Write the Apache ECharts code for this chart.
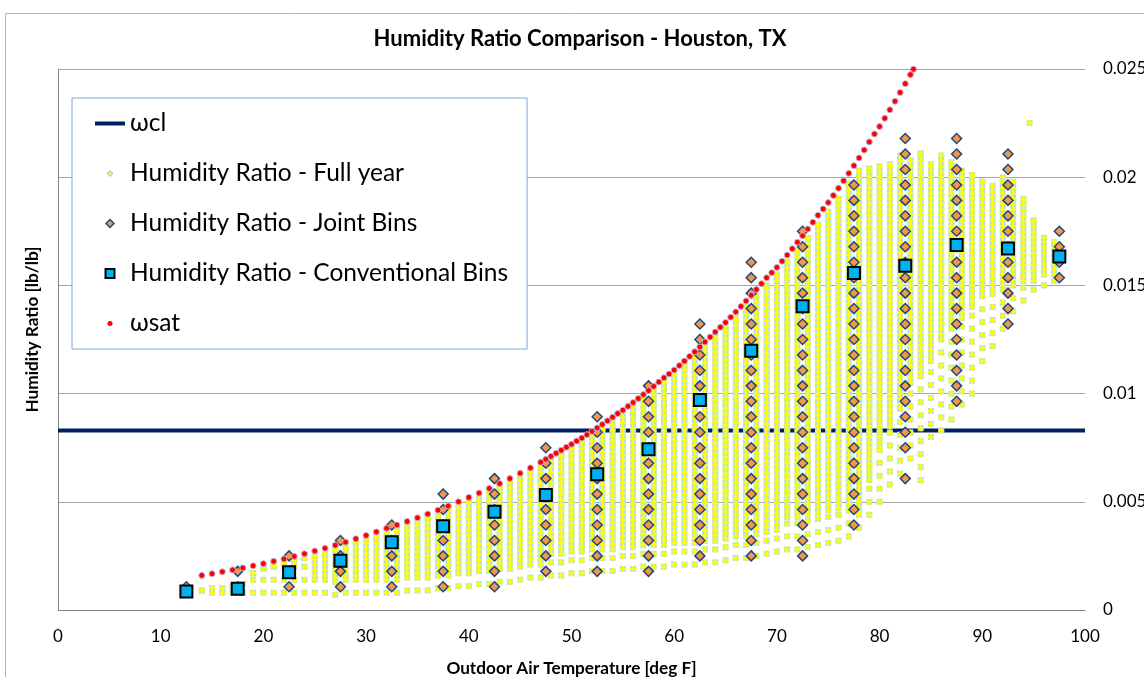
<!DOCTYPE html>
<html>
<head>
<meta charset="utf-8">
<title>Humidity Ratio Comparison - Houston, TX</title>
<script src="https://cdn.jsdelivr.net/npm/echarts@6.0.0/dist/echarts.min.js"></script>
<style>
  html, body { margin: 0; padding: 0; background: #fff; }
  #chart { width: 1144px; height: 677px; }
</style>
</head>
<body>
<div id="chart"></div>
<script>
const FONT = 'Lato, "Noto Sans", "DejaVu Sans", sans-serif'

// x axis ticks (deg F) and y axis ticks (lb/lb)
const xTicks = [0, 10, 20, 30, 40, 50, 60, 70, 80, 90, 100]
const yTicks = [0, 0.005, 0.01, 0.015, 0.02, 0.025]

// ωcl - coil leaving humidity ratio (constant)
const wclTemps = [0, 100]
const wclValues = [0.0083, 0.0083]

// hourly full-year cloud, one column per deg F:
// lowest reading, where the crowded part starts, highest reading
const fullYearTemps = [14, 15, 16, 17, 18, 19, 20, 21, 22, 23, 24, 25, 26, 27, 28, 29, 30, 31, 32, 33,
  34, 35, 36, 37, 38, 39, 40, 41, 42, 43, 44, 45, 46, 47, 48, 49, 50, 51, 52, 53,
  54, 55, 56, 57, 58, 59, 60, 61, 62, 63, 64, 65, 66, 67, 68, 69, 70, 71, 72, 73,
  74, 75, 76, 77, 78, 79, 80, 81, 82, 83, 84, 85, 86, 87, 88, 89, 90, 91, 92, 93,
  94, 95, 96, 97]
const fullYearLow = [0.0009, 0.0008, 0.0008, 0.0008, 0.0008, 0.0008, 0.0008, 0.0008, 0.0008, 0.0008,
  0.0008, 0.0008, 0.0008, 0.0007, 0.0008, 0.0008, 0.0008, 0.0008, 0.0008, 0.0008,
  0.0009, 0.0009, 0.0009, 0.0010, 0.0010, 0.0011, 0.0011, 0.0012, 0.0012, 0.0013,
  0.0013, 0.0014, 0.0015, 0.0015, 0.0016, 0.0016, 0.0017, 0.0017, 0.0018, 0.0018,
  0.0018, 0.0019, 0.0019, 0.0020, 0.0020, 0.0020, 0.0021, 0.0021, 0.0021, 0.0022,
  0.0022, 0.0023, 0.0024, 0.0024, 0.0025, 0.0026, 0.0027, 0.0028, 0.0028, 0.0029,
  0.0030, 0.0031, 0.0032, 0.0034, 0.0038, 0.0044, 0.0050, 0.0058, 0.0063, 0.0070,
  0.0060, 0.0080, 0.0083, 0.0088, 0.0095, 0.0100, 0.0115, 0.0122, 0.0130, 0.0138,
  0.0143, 0.0148, 0.0150, 0.0152]
const fullYearCore = [0.0009, 0.0010, 0.0010, 0.0011, 0.0012, 0.0017, 0.0019, 0.0021, 0.0022, 0.0023,
  0.0024, 0.0016, 0.0016, 0.0015, 0.0016, 0.0016, 0.0016, 0.0016, 0.0016, 0.0016,
  0.0017, 0.0017, 0.0015, 0.0016, 0.0016, 0.0017, 0.0017, 0.0018, 0.0018, 0.0019,
  0.0019, 0.0020, 0.0021, 0.0021, 0.0026, 0.0026, 0.0027, 0.0027, 0.0028, 0.0028,
  0.0028, 0.0029, 0.0029, 0.0030, 0.0030, 0.0030, 0.0031, 0.0031, 0.0031, 0.0032,
  0.0032, 0.0033, 0.0034, 0.0034, 0.0035, 0.0036, 0.0037, 0.0043, 0.0043, 0.0044,
  0.0045, 0.0046, 0.0047, 0.0049, 0.0045, 0.0060, 0.0075, 0.0085, 0.0095, 0.0105,
  0.0110, 0.0115, 0.0125, 0.0130, 0.0135, 0.0140, 0.0145, 0.0148, 0.0150, 0.0150,
  0.0152, 0.0152, 0.0155, 0.0155]
const fullYearHigh = [0.0009, 0.0010, 0.0010, 0.0011, 0.0012, 0.0017, 0.0019, 0.0021, 0.0022, 0.0023,
  0.0024, 0.0025, 0.0027, 0.0028, 0.0030, 0.0031, 0.0033, 0.0034, 0.0036, 0.0037,
  0.0039, 0.0041, 0.0043, 0.0045, 0.0047, 0.0049, 0.0051, 0.0053, 0.0055, 0.0057,
  0.0059, 0.0062, 0.0064, 0.0067, 0.0070, 0.0073, 0.0075, 0.0078, 0.0081, 0.0084,
  0.0088, 0.0091, 0.0094, 0.0098, 0.0102, 0.0106, 0.0109, 0.0113, 0.0118, 0.0122,
  0.0126, 0.0130, 0.0135, 0.0140, 0.0145, 0.0150, 0.0155, 0.0161, 0.0166, 0.0172,
  0.0178, 0.0184, 0.0190, 0.0197, 0.0203, 0.0204, 0.0205, 0.0206, 0.0210, 0.0208,
  0.0211, 0.0206, 0.0210, 0.0207, 0.0203, 0.0201, 0.0198, 0.0196, 0.0200, 0.0198,
  0.0190, 0.0180, 0.0172, 0.0170]
// isolated readings outside the columns above
const fullYearExtraTemps = [94.6]
const fullYearExtraValues = [0.0225]

// joint bins: 5 deg F columns, humidity bins centred on grains of moisture per lb
const jointTemps = [12.5, 17.5, 22.5, 27.5, 32.5, 37.5, 42.5, 47.5, 52.5, 57.5, 62.5, 67.5, 72.5, 77.5, 82.5, 87.5, 92.5, 97.5]
const jointGrains = [
  [7.5],
  [7.5, 12.5],
  [7.5, 12.5, 17.5],
  [7.5, 12.5, 17.5, 22.5],
  [7.5, 12.5, 17.5, 22.5, 27.5],
  [7.5, 12.5, 17.5, 22.5, 27.5, 32.5, 37.5],
  [7.5, 12.5, 17.5, 22.5, 27.5, 32.5, 37.5, 42.5],
  [12.5, 17.5, 22.5, 27.5, 32.5, 37.5, 42.5, 47.5, 52.5],
  [12.5, 17.5, 22.5, 27.5, 32.5, 37.5, 42.5, 47.5, 52.5, 57.5, 62.5],
  [12.5, 17.5, 22.5, 27.5, 32.5, 37.5, 42.5, 47.5, 52.5, 57.5, 62.5, 67.5, 72.5],
  [17.5, 22.5, 27.5, 32.5, 37.5, 42.5, 47.5, 52.5, 57.5, 62.5, 67.5, 72.5, 77.5, 82.5, 87.5, 92.5],
  [17.5, 22.5, 27.5, 32.5, 37.5, 42.5, 47.5, 52.5, 57.5, 62.5, 67.5, 72.5, 77.5, 82.5, 87.5, 92.5,
    97.5, 102.5, 107.5, 112.5],
  [17.5, 22.5, 27.5, 32.5, 37.5, 42.5, 47.5, 52.5, 57.5, 62.5, 67.5, 72.5, 77.5, 82.5, 87.5, 92.5,
    97.5, 102.5, 107.5, 112.5, 117.5, 122.5],
  [27.5, 32.5, 37.5, 42.5, 47.5, 52.5, 57.5, 62.5, 67.5, 72.5, 77.5, 82.5, 87.5, 92.5,
    97.5, 102.5, 107.5, 112.5, 117.5, 122.5, 127.5, 132.5, 137.5],
  [42.5, 52.5, 57.5, 62.5, 67.5, 72.5, 77.5, 82.5, 87.5, 92.5, 97.5, 102.5, 107.5, 112.5,
    117.5, 122.5, 127.5, 132.5, 137.5, 142.5, 147.5, 152.5],
  [67.5, 72.5, 77.5, 82.5, 87.5, 92.5, 97.5, 102.5, 107.5, 112.5, 117.5, 122.5, 127.5, 132.5,
    137.5, 142.5, 147.5, 152.5],
  [92.5, 97.5, 102.5, 107.5, 112.5, 117.5, 122.5, 127.5, 132.5, 137.5, 142.5, 147.5],
  [107.5, 112.5, 117.5, 122.5]
]
const GRAINS_PER_LB = 7000

// conventional bins: mean humidity ratio per 5 deg F bin
const convTemps = [12.5, 17.5, 22.5, 27.5, 32.5, 37.5, 42.5, 47.5, 52.5, 57.5, 62.5, 67.5, 72.5, 77.5, 82.5, 87.5, 92.5, 97.5]
const convValues = [0.00085, 0.00098, 0.00174, 0.00228, 0.00313, 0.00387, 0.00454, 0.00531, 0.00627,
  0.00743, 0.00970, 0.01198, 0.01404, 0.01557, 0.01591, 0.01687, 0.01671, 0.01633]

// ωsat - saturation humidity ratio at the observed temperatures
const satTemps = [14, 15, 16, 17, 18, 19, 20, 21, 22, 23, 24, 25, 26, 27, 28, 29, 30, 31, 32, 33,
  34, 35, 36, 37, 38, 39, 40, 41, 42, 43, 44, 45, 46, 47, 47.5, 48, 48.5, 49, 49.5, 50,
  50.5, 51, 51.5, 52, 52.5, 53, 53.5, 54, 54.5, 55, 55.5, 56, 56.5, 57, 57.5, 58, 58.5, 59, 59.5, 60,
  60.5, 61, 61.5, 62, 62.5, 63, 63.5, 64, 64.5, 65, 65.5, 66, 66.5, 67, 67.5, 68, 68.5, 69, 69.5, 70,
  70.5, 71, 71.5, 72, 72.5, 73, 73.5, 74, 74.5, 75, 75.5, 76, 76.5, 77, 77.5, 78, 78.5, 79, 79.5, 80,
  80.5, 81, 81.5, 82, 82.5, 83, 83.3]
const satValues = [0.001600, 0.001677, 0.001765, 0.001852, 0.001945, 0.002040, 0.002140, 0.002248,
  0.002358, 0.002476, 0.002597, 0.002725, 0.002855, 0.002995, 0.003135, 0.003290, 0.003445, 0.003610,
  0.003775, 0.003930, 0.004091, 0.004259, 0.004434, 0.004615, 0.004804, 0.005000, 0.005204, 0.005401,
  0.005617, 0.005841, 0.006074, 0.006318, 0.006567, 0.006828, 0.006962, 0.007099, 0.007238, 0.007380,
  0.007524, 0.007658, 0.007805, 0.007947, 0.008100, 0.008255, 0.008414, 0.008575, 0.008740, 0.008907,
  0.009076, 0.009234, 0.009410, 0.009588, 0.009772, 0.009955, 0.010144, 0.010336, 0.010532, 0.010731,
  0.010906, 0.011087, 0.011293, 0.011503, 0.011717, 0.011934, 0.012156, 0.012382, 0.012612, 0.012846,
  0.013067, 0.013287, 0.013530, 0.013776, 0.014027, 0.014283, 0.014543, 0.014808, 0.015078, 0.015353,
  0.015589, 0.015832, 0.016114, 0.016402, 0.016694, 0.016992, 0.017295, 0.017604, 0.017917, 0.018238,
  0.018531, 0.018826, 0.019157, 0.019491, 0.019832, 0.020179, 0.020532, 0.020891, 0.021257, 0.021629,
  0.021998, 0.022340, 0.022723, 0.023113, 0.023508, 0.023913, 0.024322, 0.024740, 0.024990]

// build the series data
const wclData = wclTemps.map((t, i) => [t, wclValues[i]])

const fullYearData = []
fullYearTemps.forEach((t, i) => {
  // work in 1e-5 lb/lb so the steps stay exact
  const lo = Math.round(fullYearLow[i] * 1e5)
  const core = Math.round(fullYearCore[i] * 1e5)
  const hi = Math.round(fullYearHigh[i] * 1e5)
  for (let w = lo; w < core; w += 60) fullYearData.push([t, w / 1e5])
  for (let w = core; w <= hi; w += 25) fullYearData.push([t, w / 1e5])
  if ((hi - core) % 25 !== 0 || core === hi) fullYearData.push([t, hi / 1e5])
})
fullYearExtraTemps.forEach((t, i) => fullYearData.push([t, fullYearExtraValues[i]]))

const jointData = []
jointTemps.forEach((t, i) => {
  jointGrains[i].forEach(g => jointData.push([t, g / GRAINS_PER_LB]))
})

const convData = convTemps.map((t, i) => [t, convValues[i]])
const satData = satTemps.map((t, i) => [t, satValues[i]])

const chart = echarts.init(document.getElementById('chart'))

// legend icons are drawn in a 30 x 14 box (the two bare moveTo's pin the box)
const BOX = 'path://M0,0M30,14'

chart.setOption({
  animation: false,
  backgroundColor: '#fff',
  textStyle: { fontFamily: FONT },
  title: {
    text: 'Humidity Ratio Comparison - Houston, TX',
    left: 580,
    top: 28,
    textAlign: 'center',
    padding: 0,
    textStyle: { fontFamily: FONT, fontSize: 22, fontWeight: 'bold', color: '#000' }
  },
  graphic: [
    {
      // chart area border
      type: 'rect',
      z: -10,
      shape: { x: 5.5, y: 13.5, width: 1200, height: 720 },
      style: { fill: 'none', stroke: '#B4B4B4', lineWidth: 1 }
    }
  ],
  grid: { left: 58, right: 59, top: 69, bottom: 67, containLabel: false, outerBoundsMode: 'none' },
  xAxis: {
    type: 'value',
    min: xTicks[0],
    max: xTicks[xTicks.length - 1],
    interval: 10,
    name: 'Outdoor Air Temperature [deg F]',
    nameLocation: 'middle',
    nameGap: 50,
    nameTextStyle: { fontFamily: FONT, fontSize: 17.2, fontWeight: 'bold', color: '#000' },
    axisLine: { show: true, lineStyle: { color: '#868686', width: 1 } },
    axisTick: { show: false },
    splitLine: { show: false },
    axisLabel: { fontFamily: FONT, fontSize: 17, color: '#000', margin: 18 }
  },
  yAxis: [
    {
      type: 'value',
      position: 'right',
      min: yTicks[0],
      max: yTicks[yTicks.length - 1],
      interval: 0.005,
      axisLine: { show: false },
      axisTick: { show: false },
      splitLine: { show: true, lineStyle: { color: '#A6A6A6', width: 1 } },
      axisLabel: { fontFamily: FONT, fontSize: 17, color: '#000', margin: 18 }
    },
    {
      type: 'value',
      position: 'left',
      min: yTicks[0],
      max: yTicks[yTicks.length - 1],
      interval: 0.005,
      name: 'Humidity Ratio [lb/lb]',
      nameLocation: 'middle',
      nameGap: 17,
      nameRotate: 90,
      nameTextStyle: { fontFamily: FONT, fontSize: 17.2, fontWeight: 'bold', color: '#000', padding: [0, 0, 0, 20] },
      axisLine: { show: true, lineStyle: { color: '#868686', width: 1 } },
      axisTick: { show: false },
      splitLine: { show: false },
      axisLabel: { show: false }
    }
  ],
  legend: {
    orient: 'vertical',
    left: 72,
    top: 98,
    padding: [13, 19, 13, 22],
    itemWidth: 30,
    itemHeight: 14,
    itemGap: 25,
    itemTextGap: -3,
    selectedMode: false,
    backgroundColor: '#fff',
    borderColor: '#7EA6D6',
    borderWidth: 1,
    z: 20,
    textStyle: { fontFamily: FONT, fontSize: 24.5, color: '#000' },
    data: [
      {
        name: 'ωcl',
        icon: BOX + 'M0,5H30V9H0Z',
        itemStyle: { color: '#002060', borderWidth: 0 }
      },
      {
        name: 'Humidity Ratio - Full year',
        icon: BOX + 'M14,4.5H16V6H17.5V8H16V9.5H14V8H12.5V6H14Z',
        itemStyle: { color: '#FFFF00', borderColor: '#9FD3E3', borderWidth: 1 }
      },
      {
        name: 'Humidity Ratio - Joint Bins',
        icon: BOX + 'M15,3L19,7L15,11L11,7Z',
        itemStyle: { color: '#F79646', borderColor: '#1F497D', borderWidth: 1.5 }
      },
      {
        name: 'Humidity Ratio - Conventional Bins',
        icon: BOX + 'M10.5,2.5H19.5V11.5H10.5Z',
        itemStyle: { color: '#00B0F0', borderColor: '#000', borderWidth: 2 }
      },
      {
        name: 'ωsat',
        icon: BOX + 'M17.5,7A2.5,2.5,0,1,1,12.5,7A2.5,2.5,0,1,1,17.5,7Z',
        itemStyle: { color: '#FF0000', borderWidth: 0 }
      }
    ]
  },
  series: [
    {
      name: 'ωcl',
      type: 'line',
      data: wclData,
      symbol: 'none',
      lineStyle: { color: '#002060', width: 4 },
      itemStyle: { color: '#002060' },
      z: 1
    },
    {
      // light blue backing of the full-year markers
      name: 'Humidity Ratio - Full year',
      type: 'scatter',
      data: fullYearData,
      symbol: 'rect',
      symbolSize: 6,
      large: false,
      itemStyle: { color: '#B7DEE8', opacity: 1 },
      z: 2
    },
    {
      name: 'Humidity Ratio - Full year',
      type: 'scatter',
      data: fullYearData,
      symbol: 'path://M2,0H4V2H6V4H4V6H2V4H0V2H2Z',
      symbolSize: 6,
      large: false,
      itemStyle: { color: '#FFFF00', opacity: 1 },
      z: 3
    },
    {
      name: 'Humidity Ratio - Joint Bins',
      type: 'scatter',
      data: jointData,
      symbol: 'diamond',
      symbolSize: 10,
      itemStyle: { color: '#F79646', borderColor: '#1F497D', borderWidth: 1.5, opacity: 1 },
      z: 4
    },
    {
      name: 'Humidity Ratio - Conventional Bins',
      type: 'scatter',
      data: convData,
      symbol: 'rect',
      symbolSize: 12,
      itemStyle: { color: '#00B0F0', borderColor: '#000', borderWidth: 2, opacity: 1 },
      z: 5
    },
    {
      name: 'ωsat',
      type: 'scatter',
      data: satData,
      symbol: 'circle',
      symbolSize: 6,
      itemStyle: { color: '#FF0000', borderColor: '#C4B5D8', borderWidth: 1, opacity: 1 },
      z: 6
    }
  ]
})
</script>
</body>
</html>
